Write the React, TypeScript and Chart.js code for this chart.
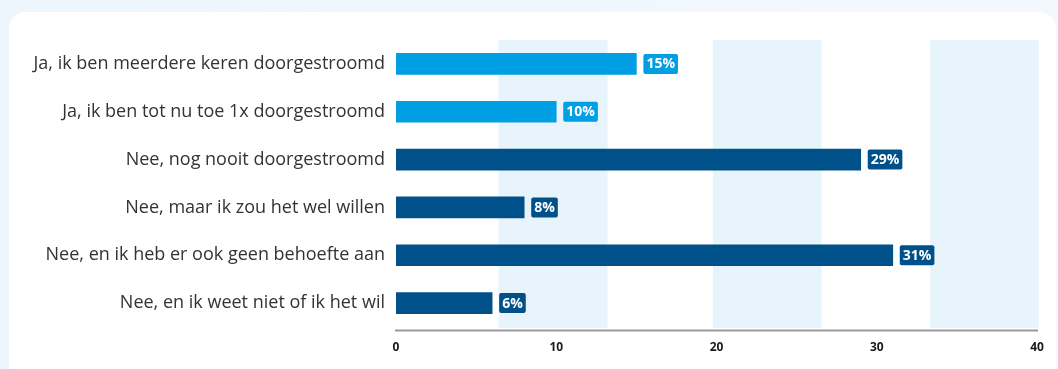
import React, { useEffect, useRef } from "react";
import { Chart, registerables } from "chart.js";

Chart.register(...registerables);

const categories = [
  "Ja, ik ben meerdere keren doorgestroomd",
  "Ja, ik ben tot nu toe 1x doorgestroomd",
  "Nee, nog nooit doorgestroomd",
  "Nee, maar ik zou het wel willen",
  "Nee, en ik heb er ook geen behoefte aan",
  "Nee, en ik weet niet of ik het wil",
];
const values = [15, 10, 29, 8, 31, 6];
const barColors = ["#009FE3", "#009FE3", "#00508A", "#00508A", "#00508A", "#00508A"];
const xMin = 0;
const xMax = 40;
const xStep = 10;
const bandRanges: [number, number][] = [
  [6.4, 13.2],
  [19.77, 26.56],
  [33.33, 40.1],
];

const FONT = "'Open Sans', 'Noto Sans', sans-serif";

const bandsPlugin = {
  id: "bands",
  beforeDatasetsDraw(chart: any) {
    const { ctx, chartArea, scales } = chart;
    const x = scales.x;
    ctx.save();
    ctx.fillStyle = "#E8F4FC";
    for (const [a, b] of bandRanges) {
      const x0 = x.getPixelForValue(a);
      const x1 = x.getPixelForValue(b);
      ctx.fillRect(x0, chartArea.top, x1 - x0, chartArea.bottom - chartArea.top + 1);
    }
    ctx.restore();
  },
  afterDraw(chart: any) {
    const { ctx, chartArea } = chart;
    ctx.save();
    ctx.strokeStyle = "#9A9A9A";
    ctx.lineWidth = 2;
    ctx.beginPath();
    const y = chartArea.bottom + 3.5;
    ctx.moveTo(chartArea.left - 1, y);
    ctx.lineTo(chartArea.right + 1, y);
    ctx.stroke();
    ctx.restore();
  },
};

const labelPlugin = {
  id: "valueLabels",
  afterDatasetsDraw(chart: any) {
    const { ctx } = chart;
    const meta = chart.getDatasetMeta(0);
    ctx.save();
    ctx.font = `bold 14px ${FONT}`;
    ctx.textBaseline = "middle";
    ctx.textAlign = "left";
    meta.data.forEach((bar: any, i: number) => {
      const text = `${values[i]}%`;
      const w = ctx.measureText(text).width + 6;
      const h = 20;
      const x0 = bar.x + 7;
      const y0 = bar.y - h / 2;
      ctx.fillStyle = barColors[i];
      ctx.beginPath();
      if ((ctx as any).roundRect) (ctx as any).roundRect(x0, y0, w, h, 2);
      else ctx.rect(x0, y0, w, h);
      ctx.fill();
      ctx.fillStyle = "#FFFFFF";
      ctx.fillText(text, x0 + 3, bar.y + 0.5);
    });
    ctx.restore();
  },
};

export default function App() {
  const ref = useRef<HTMLCanvasElement | null>(null);
  useEffect(() => {
    if (!ref.current) return;
    Chart.defaults.font.family = FONT;
    const chart = new Chart(ref.current, {
      type: "bar",
      data: {
        labels: categories,
        datasets: [
          {
            data: values,
            backgroundColor: barColors,
            barThickness: 21,
            borderWidth: 0,
          },
        ],
      },
      options: {
        indexAxis: "y",
        animation: false,
        responsive: false,
        maintainAspectRatio: false,
        layout: { padding: { top: 40, right: 21, bottom: 0, left: 0 } },
        plugins: {
          legend: { display: false },
          tooltip: { enabled: false },
        },
        scales: {
          x: {
            min: xMin,
            max: xMax,
            ticks: {
              stepSize: xStep,
              color: "#1a1a1a",
              font: { size: 12, weight: "bold", family: FONT },
              padding: 13,
            },
            grid: { display: false, drawTicks: false },
            border: { display: false },
            afterFit(scale: any) {
              scale.height = 42;
            },
          },
          y: {
            ticks: {
              color: "#333333",
              font: { size: 18, family: FONT },
              padding: 11,
            },
            grid: { display: false, drawTicks: false },
            border: { display: false },
            afterFit(scale: any) {
              scale.width = 396;
            },
          },
        },
      },
      plugins: [bandsPlugin, labelPlugin],
    });
    return () => chart.destroy();
  }, []);

  return (
    <div
      style={{
        position: "fixed",
        inset: 0,
        background: "linear-gradient(90deg, #EDF5FD 0%, #F3F8FD 100%)",
        overflow: "hidden",
      }}
    >
      <div
        style={{
          position: "absolute",
          left: 9,
          top: 12,
          width: 1047,
          height: 420,
          background: "#FFFFFF",
          borderRadius: 16,
        }}
      />
      <canvas
        ref={ref}
        width={1058}
        height={369}
        style={{ position: "absolute", left: 0, top: 0, width: 1058, height: 369 }}
      />
    </div>
  );
}
